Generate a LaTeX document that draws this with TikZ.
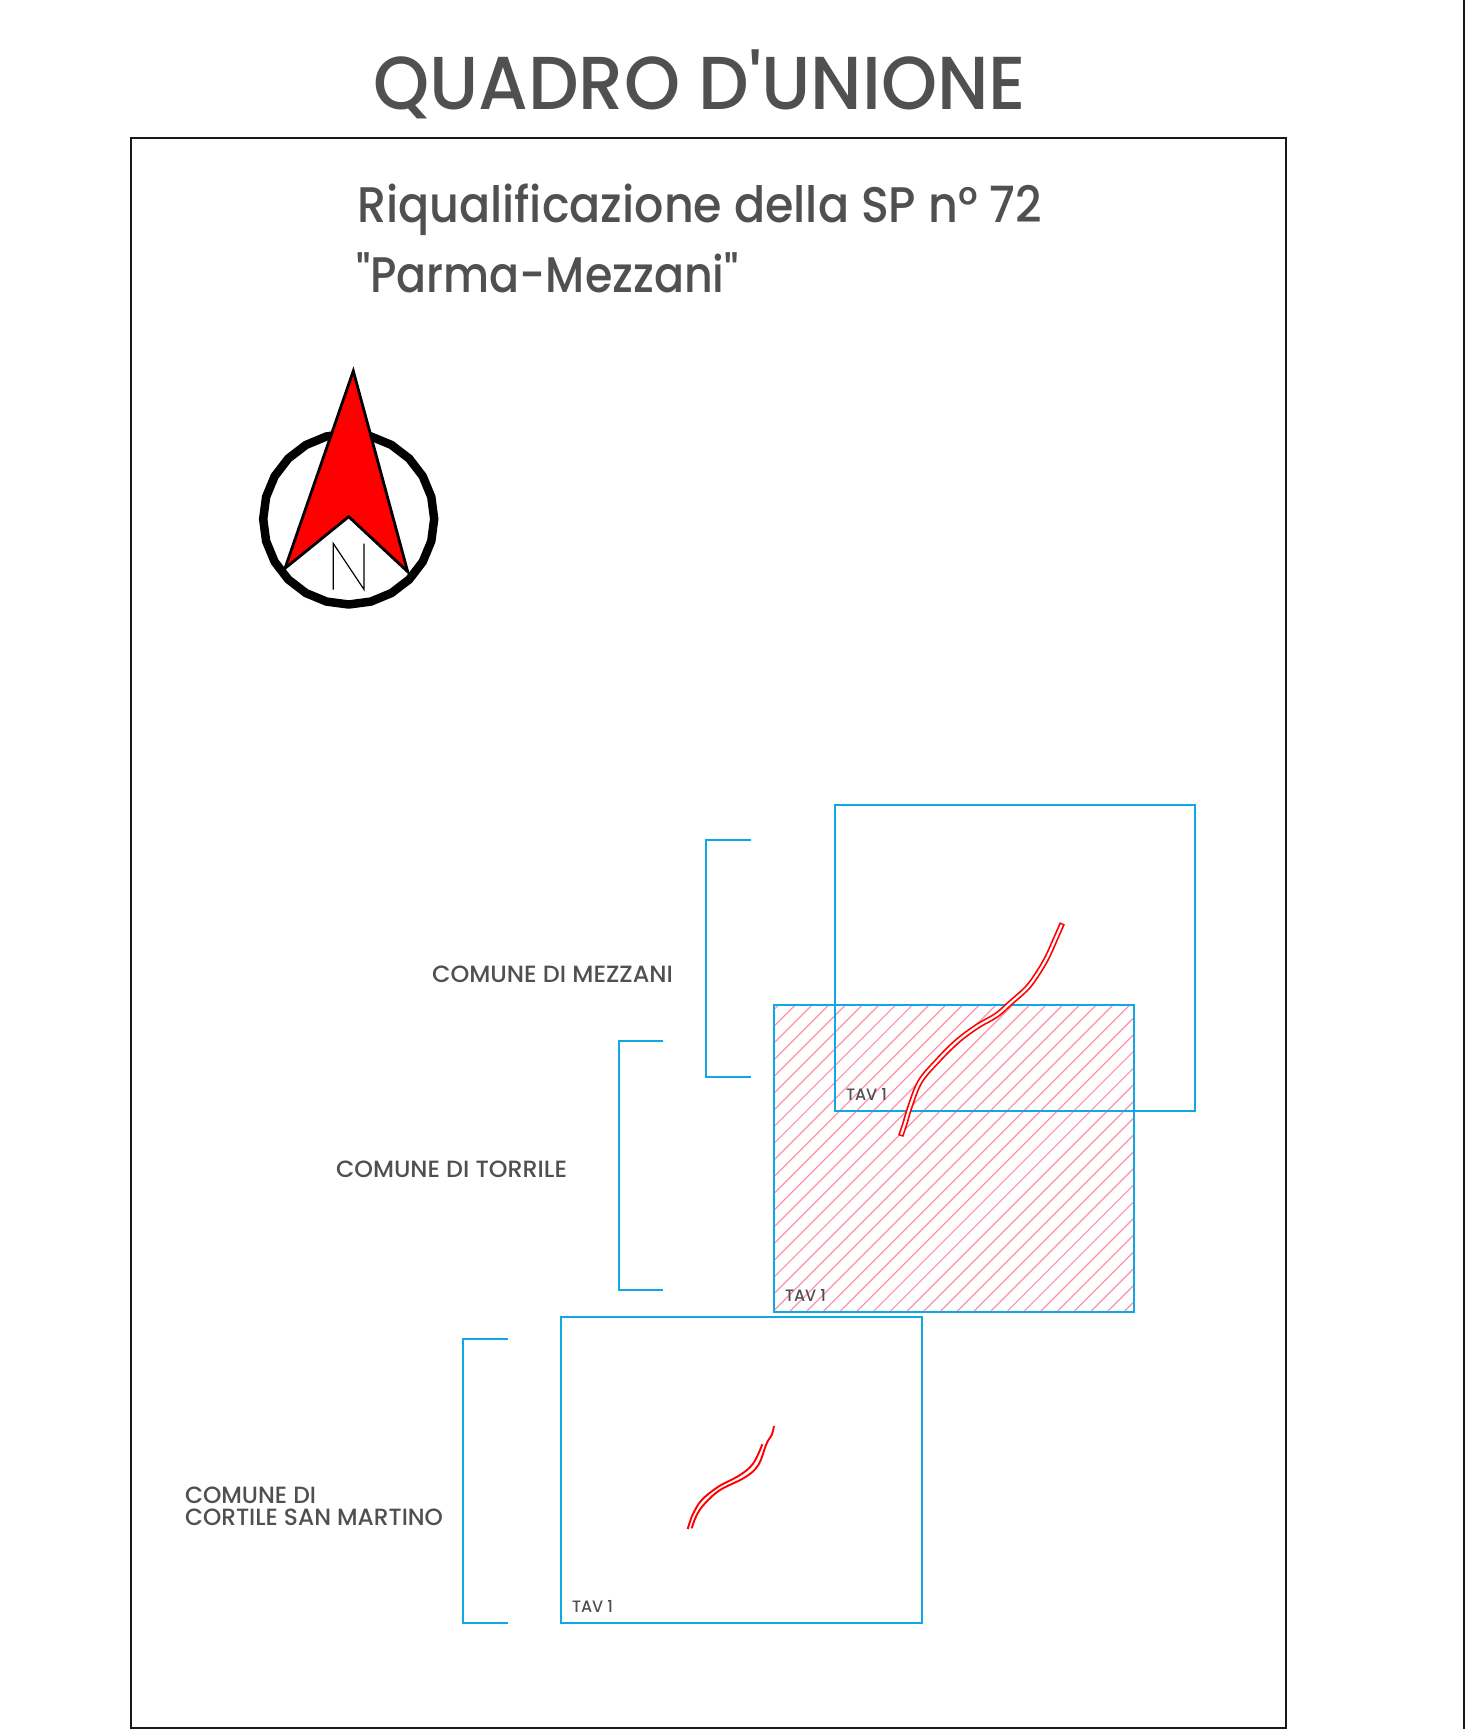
\documentclass[tikz,border=0pt]{standalone}
\usepackage{fontspec}
\usepackage{graphicx}
\newfontfamily\labelfont{Poppins}[UprightFont={* Medium}]
\definecolor{txt}{HTML}{505050}
\definecolor{cy}{HTML}{10A8E2}
\definecolor{hat}{HTML}{FF92A8}
\newcommand{\fitw}[2]{\resizebox{#1pt}{\height}{#2}}
\tikzset{
  label text/.style={anchor=base west,inner sep=0pt,outer sep=0pt,text=txt,font=\labelfont},
  frameline/.style={draw=black!90,line width=2pt},
  sheet/.style={draw=cy,line width=2.1pt},
  bracket/.style={draw=cy,line width=2.1pt},
  roadline/.style={draw=red,line width=1.9pt},
}
\begin{document}
\begin{tikzpicture}[x=1pt,y=-1pt]
\useasboundingbox (0,0) rectangle (1474,1729);
% outer lines
\draw[frameline] (1463.7,0) -- (1463.7,1729);
\draw[frameline] (130.5,1727.5) -- (130.5,137.8) -- (1286,137.8) -- (1286,1727.5) -- cycle;
% titles
\node[label text] (title) at (373,109) {\fontsize{75}{75}\labelfont\fitw{653}{QUADRO D'UNIONE}};
\node[label text] (sub1) at (357,222) {\fontsize{50}{50}\labelfont\fitw{685}{Riqualificazione della SP n° 72}};
\node[label text] (sub2) at (356,292) {\fontsize{50}{50}\labelfont\fitw{383}{"Parma-Mezzani"}};
% compass
\draw[black,line width=8.5pt,line join=round] plot[samples=25,domain=0:360] ({348.7+85.5*cos(\x)},{519+85.5*sin(\x)}) -- cycle;
\draw[fill=red,draw=black,line width=2.8pt,line join=miter] (353.3,371) -- (285,568.3) -- (348.7,516.7) -- (407.7,571.7) -- cycle;
\draw[black,line width=1.2pt,line join=miter] (333.3,589.5) -- (333.3,543.5) -- (364,589.5) -- (364,543.5);
% hatched sheet
\begin{scope}
  \clip (773.7,1005.3) rectangle (1134,1311.7);
  \foreach \k in {-2,...,42}{
    \draw[hat,line width=1.2pt] ({1800.3+\k*16.72-1005.3+10},995.3) -- ({1800.3+\k*16.72-1311.7-10},1321.7);
  }
\end{scope}
% sheets
\draw[sheet] (834.7,804.7) rectangle (1195,1111);
\draw[sheet] (773.7,1005.3) rectangle (1134,1311.7);
\draw[sheet] (561,1316.7) rectangle (921.7,1623);
% brackets
\draw[bracket] (751,840) -- (705.7,840) -- (705.7,1077) -- (751,1077);
\draw[bracket] (663,1041) -- (618.6,1041) -- (618.6,1290) -- (663,1290);
\draw[bracket] (508,1339) -- (463,1339) -- (463,1623) -- (508,1623);
% road 1
\def\roadA{(1062.3,923.3) (1055,940) (1046.7,958.3) (1036.7,975) (1026.7,988.3) (1010,1003.3) (996.7,1015) (976.7,1026.7) (956.7,1041.7) (936.7,1061.7) (920,1081.7) (910,1106.7) (905,1123.3) (900.7,1136)}
\draw[red,line width=5.6pt] plot[smooth,tension=0.6] coordinates {\roadA};
\draw[white,line width=2.2pt,shorten <=1.5pt,shorten >=1.5pt] plot[smooth,tension=0.6] coordinates {\roadA};
% road 3
\draw[roadline] plot[smooth,tension=0.6] coordinates {(687.7,1529) (690,1521.7) (693.3,1513.3) (701.7,1500) (718.3,1486.7) (740,1475) (753.3,1463.3) (762.3,1444.3)};
\draw[roadline] plot[smooth,tension=0.6] coordinates {(691.7,1528.3) (696.7,1515) (705,1503.3) (720,1490) (745,1477.3) (758.3,1465) (766.7,1443.3) (771.7,1435) (774,1426)};
% labels
\node[label text] (mezz) at (432,982.5) {\fontsize{23.5}{23.5}\labelfont\fitw{241}{COMUNE DI MEZZANI}};
\node[label text] (torr) at (336,1177) {\fontsize{23.5}{23.5}\labelfont\fitw{231}{COMUNE DI TORRILE}};
\node[label text] (cort1) at (185,1503) {\fontsize{23.5}{23.5}\labelfont\fitw{131}{COMUNE DI}};
\node[label text] (cort2) at (185,1525) {\fontsize{23.5}{23.5}\labelfont\fitw{258}{CORTILE SAN MARTINO}};
\node[label text] (tav1) at (846,1100) {\fontsize{16.5}{16.5}\labelfont\fitw{41}{TAV 1}};
\node[label text] (tav2) at (785,1301) {\fontsize{16.5}{16.5}\labelfont\fitw{41}{TAV 1}};
\node[label text] (tav3) at (572,1612) {\fontsize{16.5}{16.5}\labelfont\fitw{41}{TAV 1}};
\end{tikzpicture}
\end{document}
